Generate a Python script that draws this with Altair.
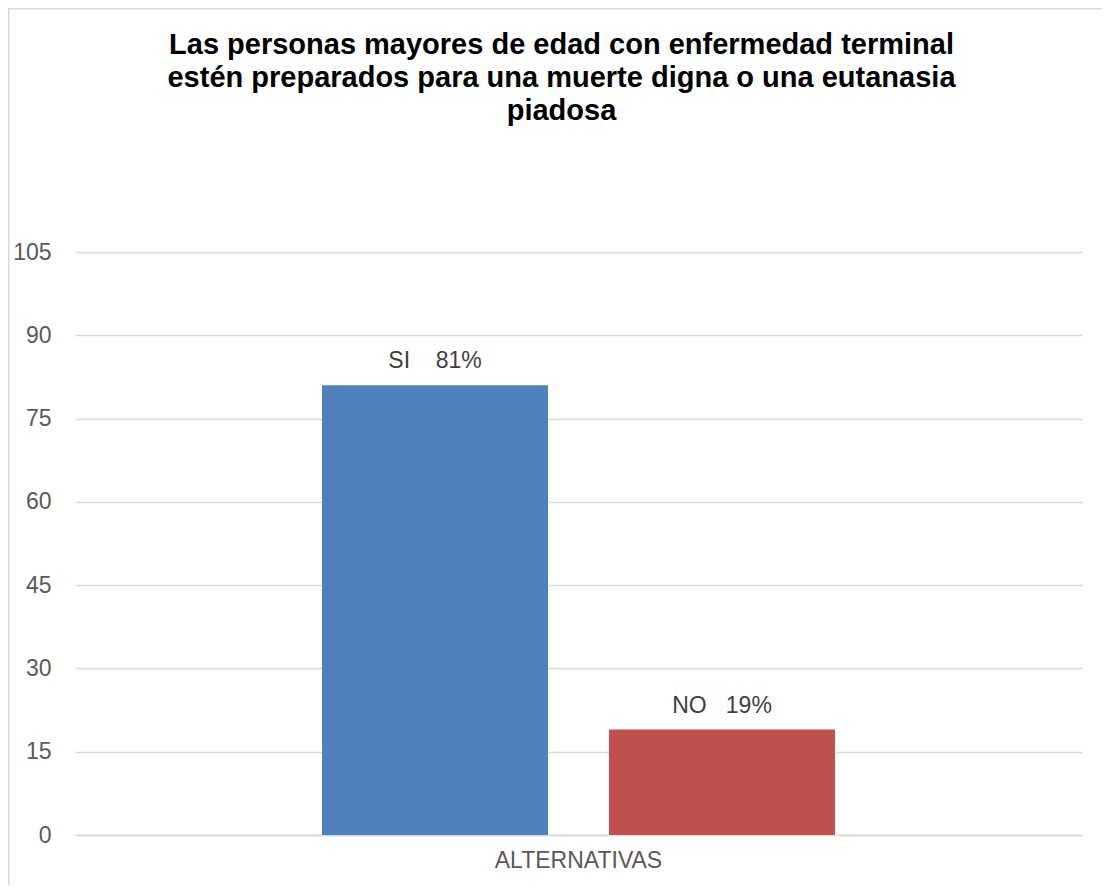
import altair as alt
import pandas as pd

categoria = ["ALTERNATIVAS", "ALTERNATIVAS"]
alternativas = ["SI", "NO"]
valores = [81, 19]
etiquetas = ["SI\u00a0\u00a0\u00a0\u00a081%", "NO\u00a0\u00a0\u00a019%"]
colores = ["#4F81BD", "#C0504D"]
ticks_y = [0, 15, 30, 45, 60, 75, 90, 105]
titulo = [
    "Las personas mayores de edad con enfermedad terminal",
    "estén preparados para una muerte digna o una eutanasia",
    "piadosa",
]

df = pd.DataFrame({"grupo": categoria, "alt": alternativas, "valor": valores, "etiqueta": etiquetas})

W, H = 1007, 583
PL, PT = 67, 244

borde = alt.Chart(pd.DataFrame({"a": [0]})).mark_rect(
    fill="transparent", stroke="#d9d9d9", strokeWidth=1.5
).encode(
    x=alt.value(-PL + 0.75), y=alt.value(-PT + 0.75),
    x2=alt.value(W + 200), y2=alt.value(H + 200),
)

base = alt.Chart(df).encode(
    x=alt.X("grupo:N", title=None,
            scale=alt.Scale(paddingInner=0, paddingOuter=0.4815),
            axis=alt.Axis(labelAngle=0, labelFontSize=23, labelColor="#595959",
                          labelFont="Liberation Sans", labelPadding=14, ticks=False,
                          domainColor="#d9d9d9", domainWidth=1.5)),
    xOffset=alt.XOffset("alt:N", sort=alternativas,
                        scale=alt.Scale(paddingInner=0.2125, paddingOuter=0)),
)

barras = base.mark_bar().encode(
    y=alt.Y("valor:Q", title=None,
            scale=alt.Scale(domain=[0, 105], nice=False),
            axis=alt.Axis(values=ticks_y, labelFontSize=23, labelColor="#595959",
                          labelFont="Liberation Sans", labelPadding=24, ticks=False,
                          domain=False, gridColor="#d9d9d9", gridWidth=1.5)),
    color=alt.Color("alt:N", sort=alternativas,
                    scale=alt.Scale(domain=alternativas, range=colores), legend=None),
)

textos = base.mark_text(dy=-24, fontSize=23, color="#404040", font="Liberation Sans").encode(
    y=alt.Y("valor:Q"),
    text="etiqueta:N",
)

chart = alt.layer(borde, barras, textos).properties(
    width=W, height=H,
    padding={"left": PL, "top": PT, "right": 20, "bottom": 50},
    autosize=alt.AutoSizeParams(type="none"),
    title=alt.TitleParams(text=titulo, fontSize=29, font="Liberation Sans", fontWeight="bold",
                          color="#000000", anchor="middle", frame="group", lineHeight=33,
                          offset=-118, dx=-17),
).configure_view(stroke=None)

chart.save("out.html", embed_options={"renderer": "svg", "actions": False})
